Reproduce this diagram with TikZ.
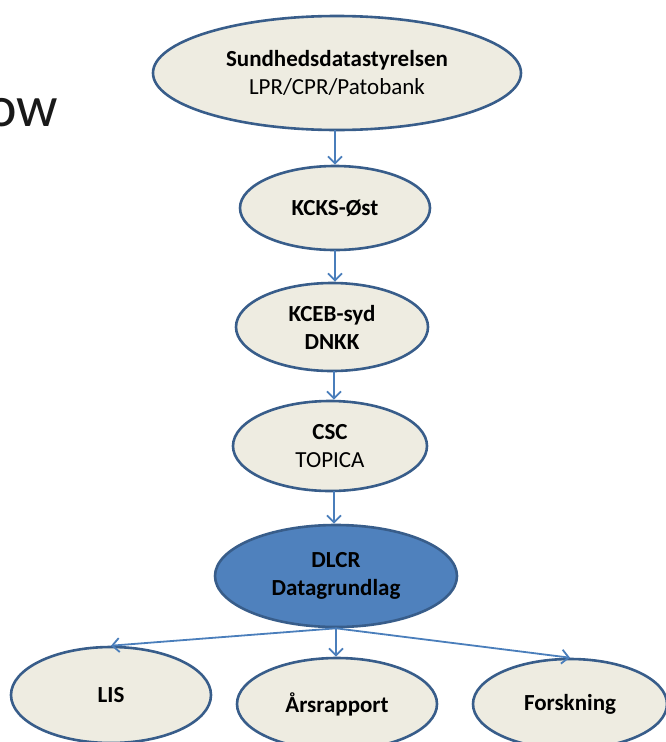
\documentclass[tikz,border=0pt]{standalone}
\usepackage{fontspec}
\setmainfont{Carlito}
\usetikzlibrary{arrows.meta,shapes.geometric}
\definecolor{cream}{HTML}{EEECE1}
\definecolor{rim}{HTML}{385D8A}
\definecolor{core}{HTML}{4F81BD}
\definecolor{flow}{HTML}{4A7EBB}
\tikzset{
  oval/.style={ellipse, draw=rim, line width=2.6pt, fill=cream, inner sep=0pt,
    align=center, font=\fontsize{23}{28}\selectfont},
  link/.style={draw=flow, line width=1.8pt,
    -{Straight Barb[length=7pt,width=14pt,line width=1.8pt]}}
}
\newcommand{\ovalat}[6]{%
  \node[oval, minimum width=#4pt, minimum height=#5pt, #6] (#1) at (#2pt,-#3pt)}
\begin{document}
\begin{tikzpicture}[x=1pt,y=1pt]
\useasboundingbox (0,0) rectangle (666,-742);
% heading fragment
\node[anchor=base west, inner sep=0pt, text=black!90,
  font=\fontsize{58}{60}\selectfont] (head) at (-14,-126) {ow};
% sources and processing chain
\ovalat{sds}{337}{73}{368}{114}{}{\textbf{Sundhedsdatastyrelsen}\\LPR/CPR/Patobank};
\ovalat{kcks}{335}{208}{190}{84}{}{\textbf{KCKS-Øst}};
\ovalat{kceb}{332}{327}{192}{88}{}{\textbf{KCEB-syd}\\\textbf{DNKK}};
\ovalat{csc}{330}{446}{194}{90}{}{\textbf{CSC}\\TOPICA};
\ovalat{dlcr}{336}{576}{242}{102}{fill=core}{\textbf{DLCR}\\\textbf{Datagrundlag}};
% outputs
\ovalat{lis}{111}{695}{200}{96}{}{\textbf{LIS}};
\ovalat{aars}{337}{704}{200}{92}{}{\textbf{Årsrapport}};
\ovalat{forsk}{570}{704}{194}{90}{}{\textbf{Forskning}};
% vertical links along the chain
\coordinate (a1) at (335,-130);
\coordinate (a2) at (335,-250);
\coordinate (a3) at (334,-371);
\coordinate (a4) at (334,-491);
\draw[link] (a1) -- (a1 |- kcks.north);
\draw[link] (a2) -- (a2 |- kceb.north);
\draw[link] (a3) -- (a3 |- csc.north);
\draw[link] (a4) -- (a4 |- dlcr.north);
% fan-out to the outputs
\draw[link] (dlcr.south) -- (lis.north);
\draw[link] (dlcr.south) -- (dlcr.south |- aars.north);
\draw[link] (dlcr.south) -- (forsk.north);
\end{tikzpicture}
\end{document}
